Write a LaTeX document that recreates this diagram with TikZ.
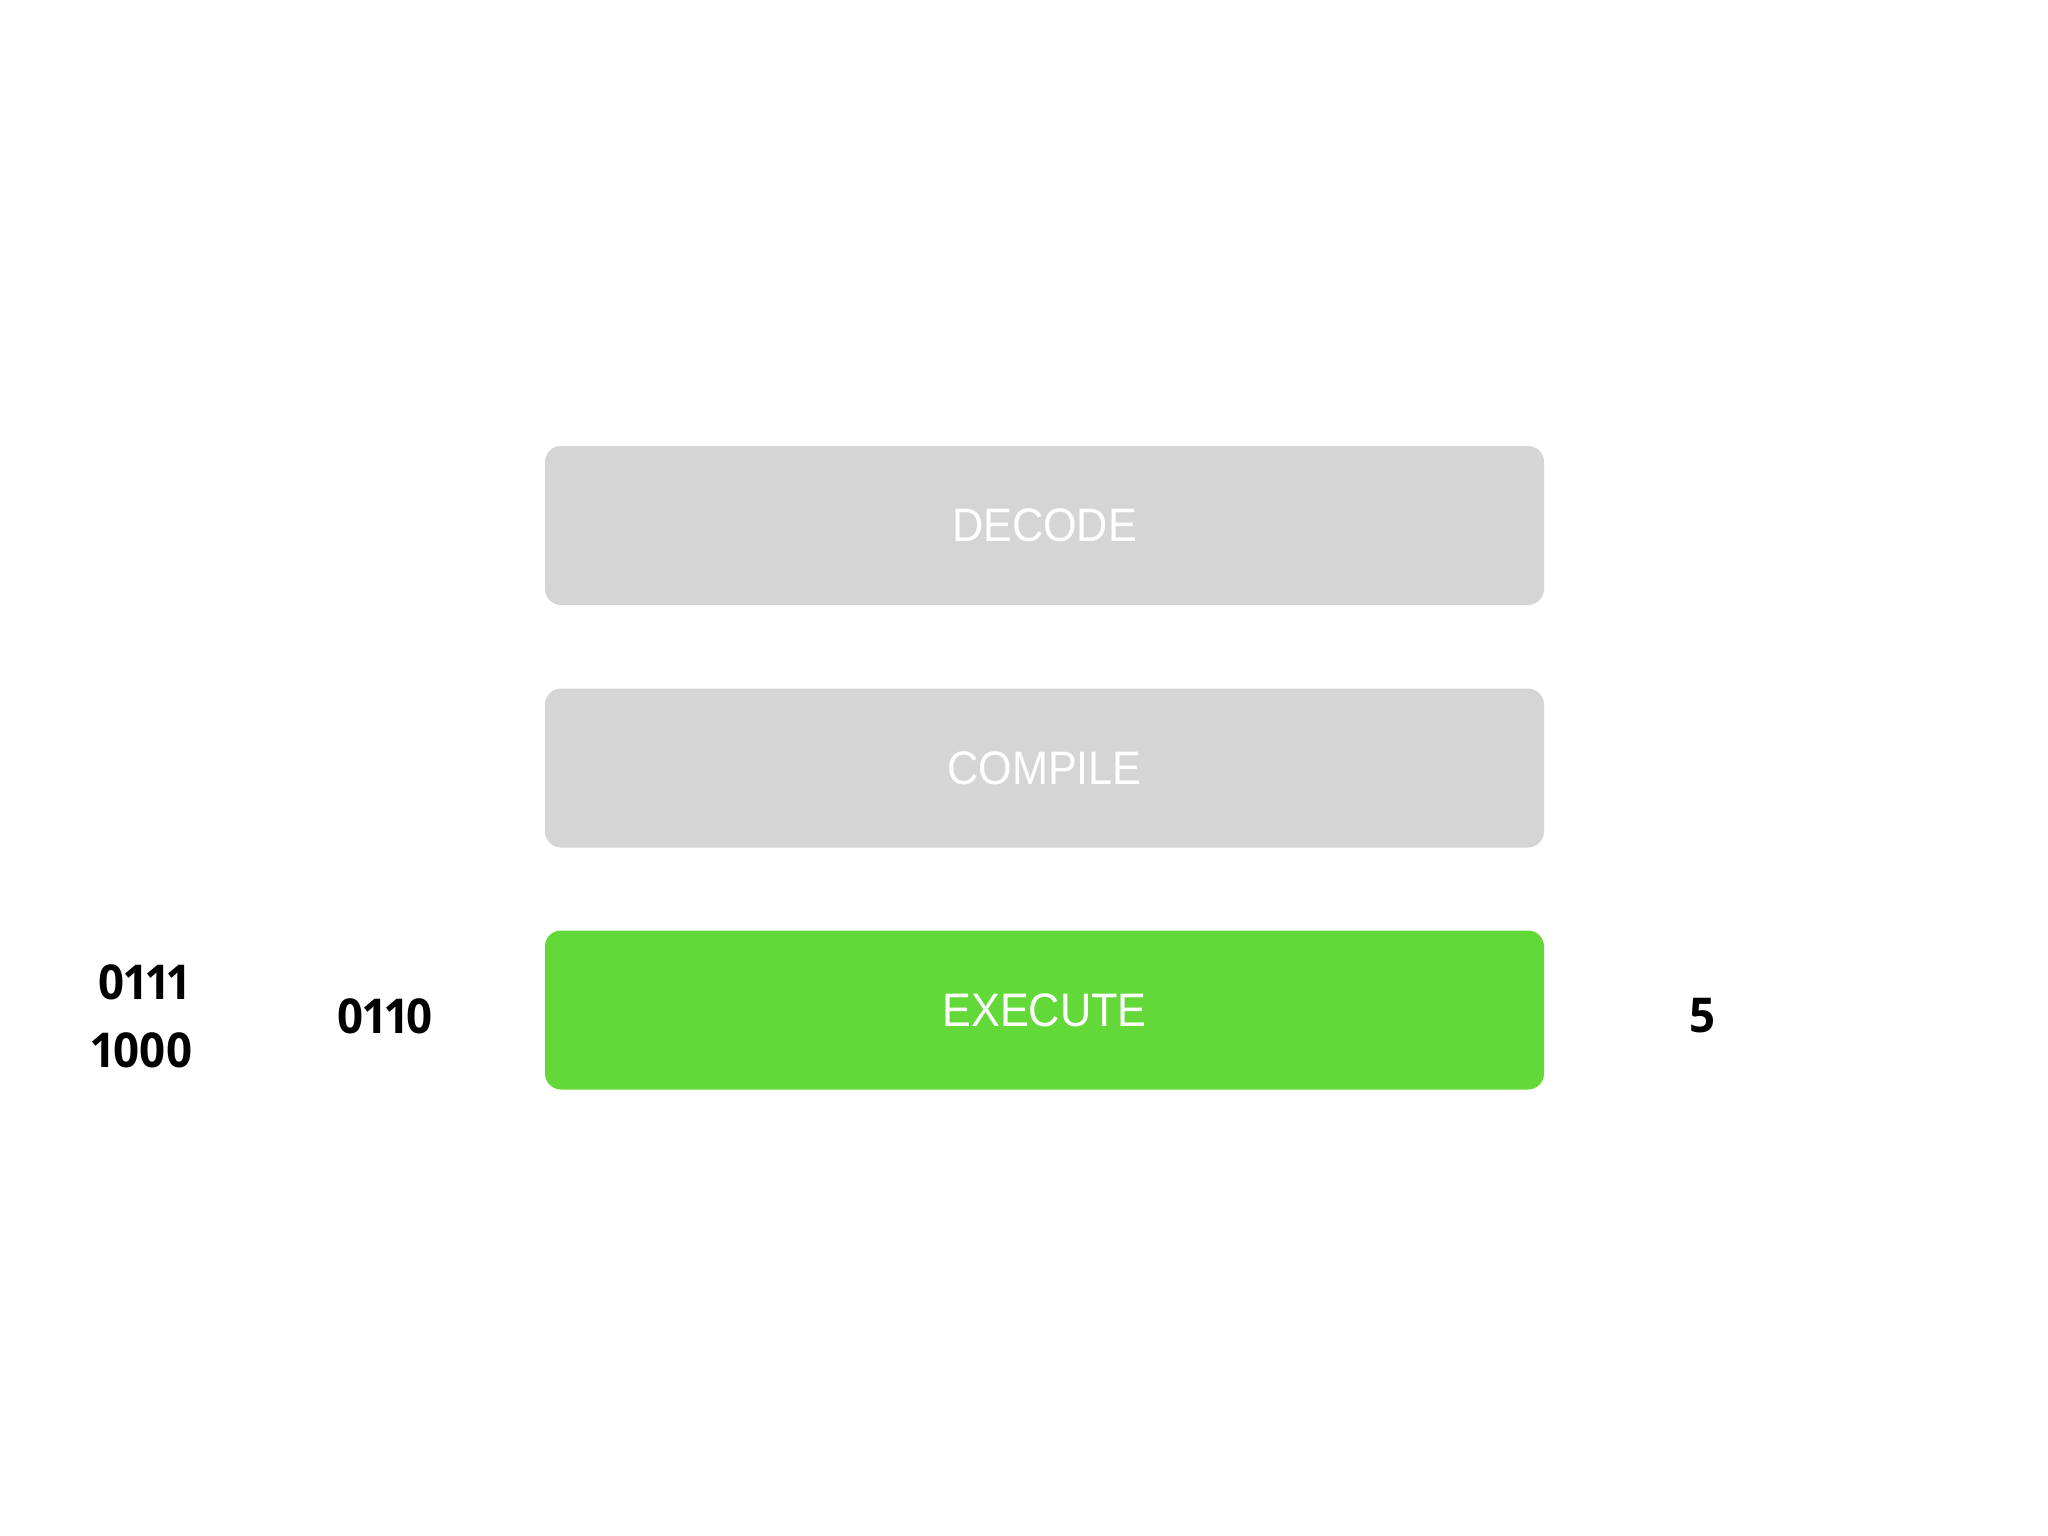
\documentclass[tikz,border=0pt]{standalone}
\usepackage{fontspec}
\setmainfont{Liberation Sans}[FakeStretch=0.92]
\newfontfamily\numfont{Open Sans}[Numbers=Proportional,FakeStretch=0.95]
\definecolor{boxgray}{HTML}{D5D5D5}
\definecolor{boxgreen}{HTML}{62D938}
\begin{document}
\begin{tikzpicture}[x=1pt,y=-1pt,
  stage/.style={rectangle, rounded corners=16pt, minimum width=999pt, minimum height=159pt,
    inner sep=0pt, text=white, font=\fontsize{47}{56}\selectfont},
  num/.style={inner sep=0pt, text=black, font=\numfont\bfseries\fontsize{48}{60}\selectfont}]
\useasboundingbox[fill=white] (0,0) rectangle (2048,1536);
\node[stage, fill=boxgray] (decode) at (1044.5,525.5) {DECODE};
\node[stage, fill=boxgray] (compile) at (1044.5,768) {COMPILE};
\node[stage, fill=boxgreen] (execute) at (1044.5,1010) {EXECUTE};
\node[num] (a) at (144,982) {0111};
\node[num] (b) at (142,1050) {1000};
\node[num] (c) at (385,1016) {0110};
\node[num] (d) at (1702,1016) {5};
\end{tikzpicture}
\end{document}
